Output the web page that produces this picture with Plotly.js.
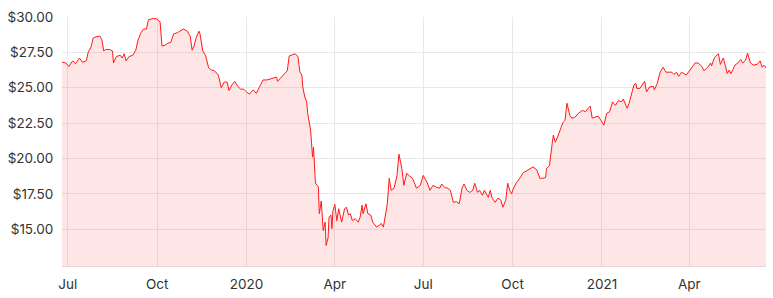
<!DOCTYPE html>
<html>
<head>
<meta charset="utf-8">
<script src="https://cdn.plot.ly/plotly-3.0.1.min.js"></script>
<style>html,body{margin:0;padding:0;background:#fff;}#chart{width:773px;height:298px;}</style>
</head>
<body>
<div id="chart"></div>
<script>
const dates = [
"2019-06-25","2019-06-29","2019-07-02","2019-07-06","2019-07-09","2019-07-13","2019-07-16","2019-07-20","2019-07-22","2019-07-25",
"2019-07-27","2019-07-30","2019-08-03","2019-08-05","2019-08-07","2019-08-09","2019-08-13","2019-08-16","2019-08-17","2019-08-20",
"2019-08-24","2019-08-26","2019-08-28","2019-08-30","2019-09-02","2019-09-06","2019-09-09","2019-09-11","2019-09-14","2019-09-17",
"2019-09-20","2019-09-22","2019-09-27","2019-10-01","2019-10-04","2019-10-06","2019-10-09","2019-10-12","2019-10-15","2019-10-18",
"2019-10-22","2019-10-25","2019-10-28","2019-11-01","2019-11-04","2019-11-06","2019-11-08","2019-11-10","2019-11-13","2019-11-14",
"2019-11-17","2019-11-20","2019-11-23","2019-11-26","2019-11-29","2019-12-03","2019-12-06","2019-12-09","2019-12-12","2019-12-14",
"2019-12-17","2019-12-20","2019-12-23","2019-12-26","2019-12-29","2020-01-01","2020-01-04","2020-01-08","2020-01-11","2020-01-14",
"2020-01-18","2020-01-22","2020-01-25","2020-01-29","2020-02-01","2020-02-02","2020-02-05","2020-02-07","2020-02-12","2020-02-14",
"2020-02-17","2020-02-20","2020-02-23","2020-02-25","2020-02-27","2020-02-28","2020-03-01","2020-03-03","2020-03-04","2020-03-06",
"2020-03-07","2020-03-08","2020-03-09","2020-03-10","2020-03-12","2020-03-15","2020-03-16","2020-03-18","2020-03-20","2020-03-22",
"2020-03-23","2020-03-25","2020-03-26","2020-03-28","2020-03-29","2020-03-30","2020-04-01","2020-04-03","2020-04-05","2020-04-08",
"2020-04-11","2020-04-13","2020-04-15","2020-04-17","2020-04-19","2020-04-22","2020-04-25","2020-04-27","2020-04-29","2020-04-30",
"2020-05-03","2020-05-05","2020-05-08","2020-05-10","2020-05-12","2020-05-14","2020-05-17","2020-05-19","2020-05-21","2020-05-25",
"2020-05-27","2020-05-29","2020-06-01","2020-06-04","2020-06-06","2020-06-09","2020-06-11","2020-06-14","2020-06-17","2020-06-20",
"2020-06-24","2020-06-28","2020-07-01","2020-07-05","2020-07-08","2020-07-11","2020-07-15","2020-07-18","2020-07-20","2020-07-23",
"2020-07-26","2020-07-29","2020-08-01","2020-08-04","2020-08-07","2020-08-10","2020-08-12","2020-08-15","2020-08-18","2020-08-21",
"2020-08-23","2020-08-26","2020-08-28","2020-08-31","2020-09-02","2020-09-06","2020-09-08","2020-09-10","2020-09-13","2020-09-16",
"2020-09-19","2020-09-21","2020-09-24","2020-09-26","2020-09-28","2020-09-30","2020-10-02","2020-10-05","2020-10-09","2020-10-12",
"2020-10-16","2020-10-19","2020-10-22","2020-10-26","2020-10-29","2020-11-01","2020-11-04","2020-11-05","2020-11-08","2020-11-11",
"2020-11-12","2020-11-14","2020-11-16","2020-11-20","2020-11-22","2020-11-24","2020-11-26","2020-11-29","2020-12-01","2020-12-04",
"2020-12-08","2020-12-12","2020-12-15","2020-12-18","2020-12-20","2020-12-22","2020-12-25","2020-12-28","2020-12-31","2021-01-03",
"2021-01-06","2021-01-09","2021-01-12","2021-01-15","2021-01-18","2021-01-21","2021-01-23","2021-01-27","2021-01-29","2021-02-01",
"2021-02-03","2021-02-05","2021-02-06","2021-02-09","2021-02-12","2021-02-14","2021-02-16","2021-02-19","2021-02-23","2021-02-24",
"2021-02-27","2021-03-01","2021-03-02","2021-03-05","2021-03-08","2021-03-11","2021-03-14","2021-03-16","2021-03-19","2021-03-21",
"2021-03-24","2021-03-29","2021-03-31","2021-04-04","2021-04-07","2021-04-10","2021-04-14","2021-04-16","2021-04-20","2021-04-23",
"2021-04-24","2021-04-27","2021-05-01","2021-05-03","2021-05-06","2021-05-08","2021-05-10","2021-05-12","2021-05-14","2021-05-16",
"2021-05-18","2021-05-21","2021-05-24","2021-05-26","2021-05-29","2021-05-31","2021-06-03","2021-06-06","2021-06-10","2021-06-13",
"2021-06-15","2021-06-17","2021-06-19"
];
const prices = [
26.81,26.75,26.5,26.9,26.7,27.1,26.8,26.9,27.5,27.9,
28.5,28.6,28.65,28.4,27.6,27.7,27.7,27.6,26.75,27.2,
27.3,27.1,27.4,26.9,27.2,27.3,27.65,28.3,28.85,29.15,
29.15,29.8,29.9,29.85,29.65,27.95,28.0,28.15,28.2,28.8,
28.9,29.0,29.15,29.0,28.65,27.65,27.95,28.5,29.0,28.85,
27.6,27.25,26.4,26.25,26.2,25.9,25.0,25.4,25.4,24.8,
25.2,25.45,25.1,24.9,24.9,24.7,24.55,24.85,24.6,25.0,
25.55,25.55,25.6,25.7,25.75,25.45,25.7,25.8,26.2,27.25,
27.3,27.4,27.2,26.1,25.9,25.05,24.35,24.0,23.2,22.2,
22.0,21.1,20.1,20.8,18.25,18.0,16.1,17.0,14.9,15.5,
13.85,14.4,15.85,16.0,15.05,16.3,16.75,15.6,16.45,15.5,
16.45,16.55,16.0,16.1,15.6,15.75,15.5,15.85,16.7,16.1,
16.8,16.1,16.0,15.5,15.3,15.15,15.3,15.4,15.15,16.8,
18.6,17.75,17.9,18.8,20.3,19.3,18.1,18.95,18.75,18.6,
17.9,18.1,18.8,18.3,17.75,18.1,17.95,17.9,18.2,17.95,
17.9,17.75,16.9,16.95,16.8,17.9,18.2,17.75,17.6,17.75,
18.25,17.6,17.75,17.4,17.75,17.25,17.75,17.2,16.9,17.2,
17.05,16.55,17.05,18.25,17.75,17.5,17.9,18.3,18.65,19.0,
19.15,19.3,19.4,19.2,18.6,18.6,18.65,19.3,19.5,21.15,
21.65,21.15,21.45,22.2,22.55,22.7,23.9,23.05,22.85,22.9,
23.2,23.4,23.3,23.55,23.7,22.85,22.9,23.0,22.7,22.35,
23.2,23.3,24.0,23.75,24.1,24.0,24.2,23.55,23.9,24.6,
25.2,25.3,24.95,24.95,25.3,25.45,24.7,25.05,25.1,24.85,
25.3,26.0,26.1,26.45,26.1,26.1,26.1,25.95,26.1,25.8,
26.1,25.9,26.1,26.45,26.75,26.75,26.5,26.2,26.45,26.75,
26.55,27.15,27.4,26.65,27.1,26.6,26.0,26.25,26.0,26.3,
26.6,26.75,27.0,26.75,26.95,27.45,26.75,26.6,26.65,26.9,
26.45,26.6,26.4
];
const xTickVals = ["2019-07-01","2019-10-01","2020-01-01","2020-04-01","2020-07-01","2020-10-01","2021-01-01","2021-04-01"];
const xTickText = ["Jul","Oct","2020","Apr","Jul","Oct","2021","Apr"];
const yTickVals = [15, 17.5, 20, 22.5, 25, 27.5, 30];
const yTickText = ["$15.00","$17.50","$20.00","$22.50","$25.00","$27.50","$30.00"];

const trace = {
  x: dates, y: prices, type: 'scatter', mode: 'lines',
  line: {color: '#ff1a1a', width: 1},
  fill: 'tozeroy', fillcolor: 'rgba(250,60,60,0.13)',
  hoverinfo: 'skip'
};
const layout = {
  width: 773, height: 298,
  margin: {l: 62, r: 7, t: 17, b: 32},
  paper_bgcolor: '#fff', plot_bgcolor: '#fff',
  showlegend: false,
  font: {family: 'Inter, "Open Sans", sans-serif', size: 13.5, color: '#333'},
  xaxis: {
    type: 'date', range: ['2019-06-25', '2021-06-19'],
    tickvals: xTickVals, ticktext: xTickText,
    showgrid: true, gridcolor: '#e8e8e8', gridwidth: 1,
    zeroline: false, showline: true, linecolor: '#e8d4d4', linewidth: 1,
    ticks: 'outside', ticklen: 6, tickcolor: 'rgba(0,0,0,0)',
    tickfont: {size: 13.5, color: '#333'}
  },
  yaxis: {
    range: [12.4, 30],
    tickvals: yTickVals, ticktext: yTickText,
    showgrid: true, gridcolor: '#e8e8e8', gridwidth: 1,
    zeroline: false, showline: false,
    ticks: 'outside', ticklen: 5, tickcolor: 'rgba(0,0,0,0)',
    tickfont: {size: 13.5, color: '#333'}
  }
};
Plotly.newPlot('chart', [trace], layout, {staticPlot: true, displayModeBar: false});
</script>
</body>
</html>
